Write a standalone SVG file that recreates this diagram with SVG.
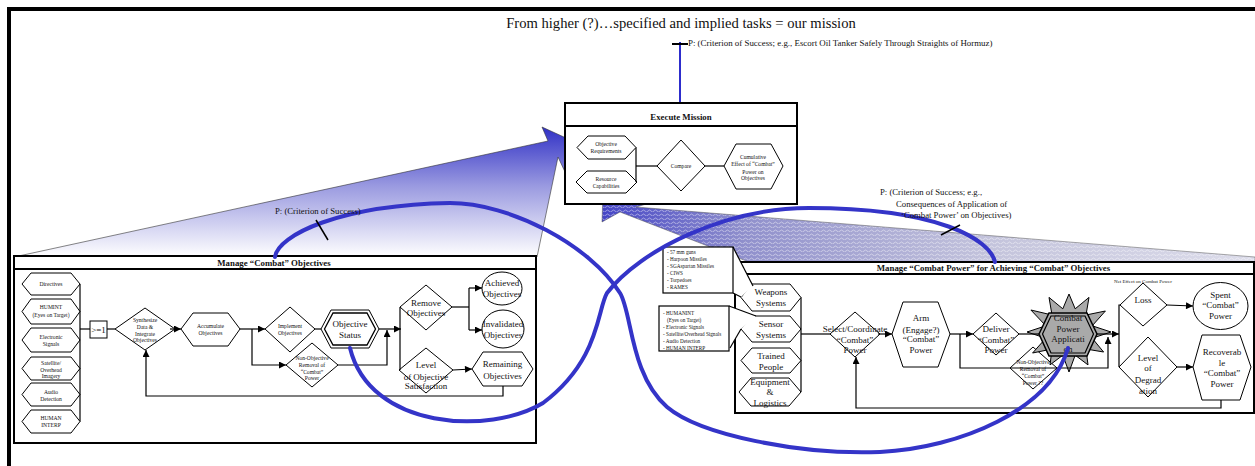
<svg xmlns="http://www.w3.org/2000/svg" width="1255" height="466" viewBox="0 0 1255 466">
<style>
  text { font-family: "Liberation Serif", "Times New Roman", serif; fill: #111; text-anchor: middle; }
  .s55 { font-size: 5.6px; }
  .s52 { font-size: 5.2px; text-anchor: start; }
  .s9 { font-size: 9px; }
  .lbl { font-size: 8.7px; text-anchor: start; }
  .hdr { font-size: 8.8px; font-weight: bold; }
  .node { fill: #fff; stroke: #000; stroke-width: 1; }
  .frame { fill: #fff; stroke: #000; stroke-width: 2; }
  .wire { fill: none; stroke: #000; stroke-width: 1.2; }
  .loop { fill: none; stroke: #3434c8; stroke-width: 4; stroke-linecap: round; }
</style>
<defs>
  <marker id="arr" viewBox="0 0 10 10" refX="10" refY="5" markerWidth="8" markerHeight="7" markerUnits="userSpaceOnUse" orient="auto">
    <path d="M0,0 L10,5 L0,10 Z" fill="#000"/>
  </marker>
  <linearGradient id="fadeUp" gradientUnits="userSpaceOnUse" x1="0" y1="128" x2="0" y2="257">
    <stop offset="0" stop-color="#3232c6"/>
    <stop offset="0.45" stop-color="#9a9ae0"/>
    <stop offset="1" stop-color="#ffffff"/>
  </linearGradient>
  <linearGradient id="fadeRight" gradientUnits="userSpaceOnUse" x1="600" y1="0" x2="1255" y2="0">
    <stop offset="0" stop-color="#4444c6"/>
    <stop offset="0.22" stop-color="#9090cc"/>
    <stop offset="0.6" stop-color="#c4c4dc"/>
    <stop offset="1" stop-color="#dcdcea"/>
  </linearGradient>
  <pattern id="weave" width="6" height="4" patternUnits="userSpaceOnUse">
    <path d="M0,3 Q1.5,1 3,3 T6,3" fill="none" stroke="#fff" stroke-opacity="0.5" stroke-width="0.9"/>
  </pattern>
</defs>

<!-- page frame -->
<line x1="7" y1="9" x2="1255" y2="9" stroke="#000" stroke-width="4"/>
<line x1="9" y1="7" x2="9" y2="466" stroke="#000" stroke-width="4"/>

<text x="681" y="28" style="font-size:14.6px">From higher (?)…specified and implied tasks = our mission</text>

<!-- block arrows feeding Execute Mission -->
<g id="flow-objectives">
  <polygon points="14,257 548,141 542,127 577,143 566,174 558,157 537,257" fill="url(#fadeUp)" stroke="#333" stroke-width="0.6"/>
</g>
<g id="flow-combat-power">
  <polygon points="603,192 650,203 636,207 1255,257 1255,262 749,262 620,212 602,222" fill="url(#fadeRight)"/>
  <polygon points="603,192 650,203 636,207 1255,257 1255,262 749,262 620,212 602,222" fill="url(#weave)" stroke="#555" stroke-width="0.5"/>
</g>

<!-- mission criterion -->
<g id="mission-criterion">
  <line x1="680" y1="42" x2="680" y2="103" stroke="#2d2dcc" stroke-width="2"/>
  <line x1="672" y1="44" x2="688" y2="44" stroke="#000" stroke-width="2"/>
  <text x="688" y="46" class="lbl" style="font-size:8.9px">P: (Criterion of Success; e.g., Escort Oil Tanker Safely Through Straights of Hormuz)</text>
</g>

<!-- Execute Mission -->
<g id="execute-mission">
  <rect x="565" y="103" width="232" height="101" class="frame"/>
  <line x1="565" y1="126" x2="797" y2="126" stroke="#000" stroke-width="2"/>
  <text x="681" y="120" class="hdr">Execute Mission</text>
  <g id="em-objective-requirements">
    <polygon points="577,147.5 588,136 625,136 636,147.5 625,159 588,159" class="node"/>
    <text x="606" y="146" class="s55">Objective</text>
    <text x="606" y="153" class="s55">Requirements</text>
  </g>
  <g id="em-resource-capabilities">
    <polygon points="576,182 587,171 626,171 637,182 626,193 587,193" class="node"/>
    <text x="606" y="181" class="s55">Resource</text>
    <text x="606" y="188" class="s55">Capabilities</text>
  </g>
  <g id="em-compare">
    <polygon points="657,166 681,140 705,166 681,191" class="node"/>
    <text x="681" y="168" class="s55">Compare</text>
  </g>
  <g id="em-cumulative-effect">
    <polygon points="724,166 736,144 771,144 783,166 771,189 736,189" class="node"/>
    <text x="753" y="159" class="s55">Cumulative</text>
    <text x="753" y="166" class="s55">Effect of “Combat”</text>
    <text x="753" y="174" class="s55">Power on</text>
    <text x="753" y="180" class="s55">Objectives</text>
  </g>
  <g id="em-wires">
    <polyline points="636,147.5 636,182" class="wire"/>
    <line x1="636" y1="166" x2="657" y2="166" class="wire"/>
    <line x1="705" y1="166" x2="724" y2="166" class="wire"/>
  </g>
</g>

<!-- Manage "Combat" Objectives -->
<g id="manage-objectives">
  <rect x="14" y="256" width="522" height="187" class="frame"/>
  <line x1="14" y1="269" x2="536" y2="269" stroke="#000" stroke-width="2"/>
  <text x="274" y="266" class="hdr">Manage “Combat” Objectives</text>

  <g id="in-directives">
    <polygon points="22,284 31,273 71,273 80,284 71,295 31,295" class="node"/>
    <text x="51" y="286" class="s55">Directives</text>
  </g>
  <g id="in-humint">
    <polygon points="22,311.5 31,299 71,299 80,311.5 71,324 31,324" class="node"/>
    <text x="51" y="309" class="s55">HUMINT</text>
    <text x="51" y="317" class="s55">(Eyes on Target)</text>
  </g>
  <g id="in-electronic">
    <polygon points="22,340 31,328 71,328 80,340 71,352 31,352" class="node"/>
    <text x="51" y="339" class="s55">Electronic</text>
    <text x="51" y="346" class="s55">Signals</text>
  </g>
  <g id="in-satellite">
    <polygon points="22,368.5 31,357 71,357 80,368.5 71,380 31,380" class="node"/>
    <text x="51" y="365" class="s55">Satellite/</text>
    <text x="51" y="371.5" class="s55">Overhead</text>
    <text x="51" y="378" class="s55">Imagery</text>
  </g>
  <g id="in-audio">
    <polygon points="22,394.5 31,383 71,383 80,394.5 71,406 31,406" class="node"/>
    <text x="51" y="394" class="s55">Audio</text>
    <text x="51" y="401" class="s55">Detection</text>
  </g>
  <g id="in-human-interp">
    <polygon points="22,421.5 31,410 71,410 80,421.5 71,433 31,433" class="node"/>
    <text x="51" y="420" class="s55">HUMAN</text>
    <text x="51" y="427" class="s55">INTERP</text>
  </g>
  <g id="gate">
    <rect x="90" y="321" width="17" height="17" class="node"/>
    <text x="98.5" y="332.5" class="s9">&gt;=1</text>
  </g>
  <g id="synthesize">
    <polygon points="115,329 145,308 175,329 145,350" class="node"/>
    <text x="145" y="322" class="s55">Synthesize</text>
    <text x="145" y="329" class="s55">Data &amp;</text>
    <text x="145" y="336" class="s55">Integrate</text>
    <text x="145" y="342" class="s55">Objectives</text>
  </g>
  <g id="accumulate">
    <polygon points="181,329 193,313 228,313 240,329 228,346 193,346" class="node"/>
    <text x="210.5" y="328" class="s55">Accumulate</text>
    <text x="210.5" y="335" class="s55">Objectives</text>
  </g>
  <g id="implement">
    <polygon points="265,329 290,307 315,329 290,352" class="node"/>
    <text x="290" y="328" class="s55">Implement</text>
    <text x="290" y="335" class="s55">Objectives</text>
  </g>
  <g id="non-objective-removal">
    <polygon points="286,365 312,343 338,365 312,387" class="node"/>
    <text x="312" y="360" class="s55">Non-Objective</text>
    <text x="312" y="367" class="s55">Removal of</text>
    <text x="312" y="374" class="s55">“Combat”</text>
    <text x="312" y="380" class="s55">Power</text>
  </g>
  <g id="objective-status">
    <polygon points="321,329 331,310 369,310 379,329 369,348 331,348" class="node" stroke-width="1.3"/>
    <polygon points="324.5,329 333,313 367,313 375.5,329 367,345 333,345" fill="none" stroke="#000" stroke-width="1.3"/>
    <text x="350" y="327" class="s9">Objective</text>
    <text x="350" y="338" class="s9">Status</text>
  </g>
  <g id="remove-objectives">
    <polygon points="400,307 426,285 452,307 426,330" class="node"/>
    <text x="426" y="306" class="s9">Remove</text>
    <text x="426" y="316" class="s9">Objectives</text>
  </g>
  <g id="level-satisfaction">
    <polygon points="399,370 426,348 453,370 426,393" class="node"/>
    <text x="426" y="368" class="s9">Level</text>
    <text x="426" y="379.5" class="s9">of Objective</text>
    <text x="426" y="389" class="s9">Satisfaction</text>
  </g>
  <g id="achieved">
    <ellipse cx="502" cy="288.5" rx="20" ry="16.5" class="node"/>
    <text x="502" y="286" class="s9">Achieved</text>
    <text x="502" y="297" class="s9">Objectives</text>
  </g>
  <g id="invalidated">
    <ellipse cx="503" cy="329" rx="21" ry="19" class="node"/>
    <text x="503" y="327" class="s9">Invalidated</text>
    <text x="503" y="338" class="s9">Objectives</text>
  </g>
  <g id="remaining">
    <polygon points="472,369 483,352 522,352 533,369 522,386 483,386" class="node"/>
    <text x="502.5" y="367" class="s9">Remaining</text>
    <text x="502.5" y="379" class="s9">Objectives</text>
  </g>
</g>

<!-- Manage "Combat Power" -->
<g id="manage-combat-power">
  <rect x="735" y="262" width="519" height="151" class="frame"/>
  <line x1="735" y1="274" x2="1254" y2="274" stroke="#000" stroke-width="2"/>
  <text x="993.5" y="270.5" class="hdr">Manage “Combat Power” for Achieving “Combat” Objectives</text>
  <text x="1143" y="283" style="font-size:5px">Net Effect on Combat Power</text>

  <g id="weapons">
    <polygon points="741,297.5 752,284 790,284 801,297.5 790,311 752,311" class="node"/>
    <text x="771" y="295" class="s9">Weapons</text>
    <text x="771" y="306" class="s9">Systems</text>
  </g>
  <g id="sensors">
    <polygon points="741,329 752,316 790,316 801,329 790,342 752,342" class="node"/>
    <text x="771" y="327" class="s9">Sensor</text>
    <text x="771" y="338" class="s9">Systems</text>
  </g>
  <g id="trained-people">
    <polygon points="741,360.5 752,348 790,348 801,360.5 790,373 752,373" class="node"/>
    <text x="771" y="359" class="s9">Trained</text>
    <text x="771" y="369.5" class="s9">People</text>
  </g>
  <g id="equipment">
    <polygon points="739,392 751,378 789,378 801,392 789,406 751,406" class="node"/>
    <text x="770" y="385" class="s9">Equipment</text>
    <text x="770" y="395" class="s9">&amp;</text>
    <text x="770" y="406" class="s9">Logistics</text>
  </g>
  <g id="select-coordinate">
    <polygon points="830,334 855,312 880,334 855,357" class="node"/>
    <text x="855" y="332" class="s9">Select/Coordinate</text>
    <text x="855" y="343" class="s9">“Combat”</text>
    <text x="855" y="353" class="s9">Power</text>
  </g>
  <g id="arm">
    <polygon points="892,334 903,302 938,302 950,334 938,367 903,367" class="node"/>
    <text x="921" y="321" class="s9">Arm</text>
    <text x="921" y="333" class="s9">(Engage?)</text>
    <text x="921" y="342" class="s9">“Combat”</text>
    <text x="921" y="353" class="s9">Power</text>
  </g>
  <g id="deliver">
    <polygon points="973,334 996,313 1019,334 996,355" class="node"/>
    <text x="996" y="332" class="s9">Deliver</text>
    <text x="996" y="343" class="s9">“Combat”</text>
    <text x="996" y="353" class="s9">Power</text>
  </g>
  <g id="non-objective-removal-power">
    <polygon points="1010,368 1033,347 1057,368 1033,389" class="node"/>
    <text x="1033" y="364" class="s55">Non-Objective</text>
    <text x="1033" y="370.5" class="s55">Removal of</text>
    <text x="1033" y="378" class="s55">“Combat”</text>
    <text x="1033" y="385" class="s55">Power ??</text>
  </g>
  <g id="power-application">
    <polygon points="1069,294 1075.2,308.8 1089,297.4 1086,315 1105.4,311 1092.2,325.8 1111,332 1092.2,338.2 1103.6,352 1086,349 1088,364.9 1075.2,355.2 1069,372 1062.8,355.2 1050,364.9 1052,349 1032.6,353 1045.8,338.2 1027,332 1045.8,325.8 1030.9,310 1052,315 1049,297.4 1062.8,308.8" fill="#a9a9a9" stroke="#000" stroke-width="1"/>
    <polygon points="1039,334 1049,313 1087,313 1097,334 1087,356 1049,356" fill="#a9a9a9" stroke="#000" stroke-width="1.5"/>
    <polygon points="1042.5,334 1051,316 1085,316 1093.5,334 1085,353 1051,353" fill="none" stroke="#000" stroke-width="1.2"/>
    <text x="1068" y="321" class="s9">Combat</text>
    <text x="1068" y="332" class="s9">Power</text>
    <text x="1068" y="342" class="s9">Applicati</text>
    <text x="1068" y="352" class="s9">on</text>
  </g>
  <g id="loss">
    <polygon points="1120,305 1143,283 1167,305 1143,326" class="node"/>
    <text x="1143" y="303" class="s9">Loss</text>
  </g>
  <g id="spent">
    <ellipse cx="1220.5" cy="306" rx="27.5" ry="23.5" class="node"/>
    <text x="1220.5" y="298" class="s9">Spent</text>
    <text x="1220.5" y="308" class="s9">“Combat”</text>
    <text x="1220.5" y="319" class="s9">Power</text>
  </g>
  <g id="level-degradation">
    <polygon points="1119,367 1148,337 1177,367 1148,397" class="node"/>
    <text x="1148" y="361" class="s9">Level</text>
    <text x="1148" y="371" class="s9">of</text>
    <text x="1148" y="383" class="s9">Degrad</text>
    <text x="1148" y="394" class="s9">ation</text>
  </g>
  <g id="recoverable">
    <polygon points="1193,367 1202,335 1240,335 1251,367 1240,400 1202,400" class="node"/>
    <text x="1222" y="355" class="s9">Recoverab</text>
    <text x="1222" y="366" class="s9">le</text>
    <text x="1222" y="376" class="s9">“Combat”</text>
    <text x="1222" y="387" class="s9">Power</text>
  </g>
</g>

<!-- resource callouts -->
<g id="callout-weapons">
  <polygon points="733,247 753,286 741,297 733,293" fill="#fff"/>
  <rect x="663" y="247" width="70" height="46" fill="#fff" stroke="#000" stroke-width="1.2"/>
  <polyline points="733,247 753,286" class="wire" stroke-width="1"/>
  <polyline points="733,293 741,297" class="wire" stroke-width="1"/>
  <text x="667" y="254" class="s52">- 57 mm guns</text>
  <text x="667" y="261" class="s52">- Harpoon Missiles</text>
  <text x="667" y="268" class="s52">- SGAspartan Missiles</text>
  <text x="667" y="275" class="s52">- CIWS</text>
  <text x="667" y="282" class="s52">- Torpedoes</text>
  <text x="667" y="289" class="s52">- RAMES</text>
</g>
<g id="callout-sensors">
  <polygon points="729,306 756,316 741,329 730,348" fill="#fff"/>
  <rect x="659" y="306" width="70" height="45" fill="#fff" stroke="#000" stroke-width="1.2"/>
  <polyline points="729,306 756,316" class="wire" stroke-width="1"/>
  <polyline points="730,348 741,329" class="wire" stroke-width="1"/>
  <text x="663" y="315" class="s52">- HUMANINT</text>
  <text x="667" y="322" class="s52">(Eyes on Target)</text>
  <text x="663" y="329" class="s52">- Electronic Signals</text>
  <text x="663" y="336" class="s52">- Satellite/Overhead Signals</text>
  <text x="663" y="343" class="s52">- Audio Detection</text>
  <text x="663" y="350" class="s52">- HUMAN INTERP</text>
</g>

<!-- connectors -->
<g id="connectors">
  <polyline points="80,284 80,421.5" class="wire"/>
  <line x1="80" y1="329" x2="90" y2="329" class="wire"/>
  <line x1="107" y1="329" x2="115" y2="329" class="wire"/>
  <line x1="170" y1="329" x2="181" y2="329" class="wire" marker-end="url(#arr)"/>
  <line x1="240" y1="329" x2="265" y2="329" class="wire" marker-end="url(#arr)"/>
  <polyline points="252,329 252,365 286,365" class="wire" marker-end="url(#arr)"/>
  <line x1="315" y1="329" x2="321" y2="329" class="wire"/>
  <line x1="379" y1="329" x2="401" y2="329" class="wire" marker-end="url(#arr)"/>
  <polyline points="400,307 400,370" class="wire"/>
  <polyline points="338,365 387,365 387,330" class="wire" marker-end="url(#arr)"/>
  <polyline points="452,307 469,307" class="wire"/>
  <polyline points="469,288 469,330" class="wire"/>
  <line x1="469" y1="288" x2="482" y2="288" class="wire" marker-end="url(#arr)"/>
  <line x1="469" y1="330" x2="482" y2="330" class="wire" marker-end="url(#arr)"/>
  <line x1="453" y1="370" x2="472" y2="369" class="wire" marker-end="url(#arr)"/>
  <polyline points="503,386 503,396 146,396 146,350" class="wire" marker-end="url(#arr)"/>

  <polyline points="801,297.5 801,392" class="wire"/>
  <line x1="801" y1="334" x2="830" y2="334" class="wire"/>
  <line x1="878" y1="334" x2="892" y2="334" class="wire" marker-end="url(#arr)"/>
  <line x1="950" y1="334" x2="973" y2="334" class="wire" marker-end="url(#arr)"/>
  <polyline points="960,334 960,368 1108,368 1108,337" class="wire" marker-end="url(#arr)"/>
  <line x1="1019" y1="334" x2="1039" y2="334" class="wire"/>
  <line x1="1097" y1="334" x2="1119" y2="334" class="wire" marker-end="url(#arr)"/>
  <polyline points="1120,305 1119,305 1119,367" class="wire"/>
  <line x1="1167" y1="305" x2="1193" y2="306" class="wire" marker-end="url(#arr)"/>
  <line x1="1177" y1="367" x2="1193" y2="367" class="wire" marker-end="url(#arr)"/>
  <polyline points="1221,400 1221,408 856,408 856,357" class="wire" marker-end="url(#arr)"/>
</g>

<!-- criterion loops -->
<g id="loops">
  <path d="M275,257 C278,235 340,205 450,203 C510,203 590,245 620,293 C632,312 630,375 667,407 C700,435 800,455 880,452 C960,448 1050,410 1068,348" class="loop"/>
  <path d="M995,262 C990,240 940,208 809,208 C725,208 640,250 607,293 C597,310 600,360 543,403 C490,435 370,430 350,348" class="loop"/>
  <line x1="316" y1="220" x2="328" y2="240" stroke="#000" stroke-width="1.5"/>
  <line x1="941" y1="235" x2="960" y2="225" stroke="#000" stroke-width="1.5"/>
  <text x="275" y="214" class="lbl">P: (Criterion of Success)</text>
  <text x="880" y="195" class="lbl">P: (Criterion of Success; e.g.,</text>
  <text x="896" y="206.5" class="lbl">Consequences of Application of</text>
  <text x="901" y="218" class="lbl">‘Combat Power’ on Objectives)</text>
</g>
</svg>
